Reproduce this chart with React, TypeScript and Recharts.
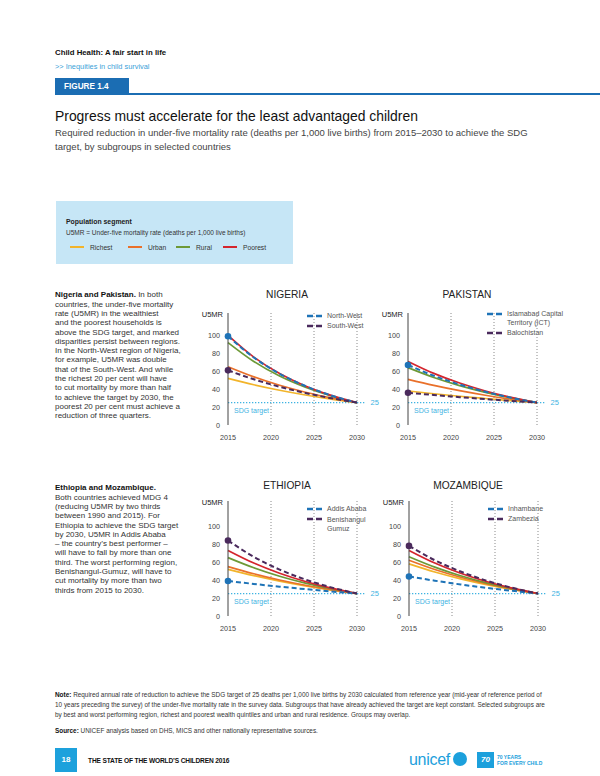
import { LineChart, Line, XAxis, YAxis, ReferenceLine } from "recharts"

const YEARS = [2015, 2018, 2021, 2024, 2027, 2030]
const X_TICKS = [2015, 2020, 2025, 2030]
const Y_TICKS = [0, 20, 40, 60, 80, 100]
const SDG_TARGET = 25

// U5MR per subgroup
const NIGERIA_RICHEST = [52, 44.9, 38.8, 33.5, 28.9, 25]
const NIGERIA_URBAN = [65, 53.7, 44.3, 36.6, 30.3, 25]
const NIGERIA_RURAL = [92, 70.9, 54.6, 42.1, 32.4, 25]
const NIGERIA_POOREST = [100, 75.8, 57.4, 43.5, 33.0, 25]
const NIGERIA_NORTH_WEST = [99, 75.3, 57.2, 43.5, 33.0, 25]
const NIGERIA_SOUTH_WEST = [61, 51.0, 42.7, 35.7, 29.9, 25]

const PAKISTAN_RICHEST = [38, 34.9, 32.1, 29.6, 27.2, 25]
const PAKISTAN_URBAN = [51, 44.2, 38.3, 33.2, 28.8, 25]
const PAKISTAN_RURAL = [64, 53.0, 43.9, 36.4, 30.2, 25]
const PAKISTAN_POOREST = [71, 57.6, 46.8, 38.0, 30.8, 25]
const PAKISTAN_ICT = [67, 55.0, 45.2, 37.1, 30.4, 25]
const PAKISTAN_BALOCHISTAN = [36, 33.5, 31.1, 28.9, 26.9, 25]

const ETHIOPIA_RICHEST = [52, 44.9, 38.8, 33.5, 28.9, 25]
const ETHIOPIA_URBAN = [55, 47.0, 40.1, 34.2, 29.2, 25]
const ETHIOPIA_RURAL = [65, 53.7, 44.3, 36.6, 30.3, 25]
const ETHIOPIA_POOREST = [73, 58.9, 47.6, 38.4, 31.0, 25]
const ETHIOPIA_ADDIS_ABABA = [39, 35.7, 32.6, 29.9, 27.3, 25]
const ETHIOPIA_BENISHANGUL = [84, 65.9, 51.7, 40.6, 31.9, 25]

const MOZAMBIQUE_RICHEST = [58, 49.0, 41.4, 35.0, 29.6, 25]
const MOZAMBIQUE_URBAN = [62, 51.7, 43.1, 36.0, 30.0, 25]
const MOZAMBIQUE_RURAL = [66, 54.4, 44.8, 36.9, 30.4, 25]
const MOZAMBIQUE_POOREST = [73, 58.9, 47.6, 38.4, 31.0, 25]
const MOZAMBIQUE_INHAMBANE = [44, 39.3, 35.1, 31.3, 28.0, 25]
const MOZAMBIQUE_ZAMBEZIA = [78, 62.1, 49.5, 39.4, 31.4, 25]

const FONT = '"Liberation Sans", Arial, sans-serif'
const SDG_COLOR = "#3db3e2"
const PLOT_W = 129

const SERIES = [
  { key: "richest", color: "#f2b42a", dashed: false },
  { key: "urban", color: "#e9702a", dashed: false },
  { key: "rural", color: "#6d9936", dashed: false },
  { key: "poorest", color: "#d4252d", dashed: false },
  { key: "regionA", color: "#1e73b7", dashed: true },
  { key: "regionB", color: "#4a2a5c", dashed: true },
]

function buildRows(groups: number[][]) {
  return YEARS.map((year, i) => ({
    year,
    richest: groups[0][i],
    urban: groups[1][i],
    rural: groups[2][i],
    poorest: groups[3][i],
    regionA: groups[4][i],
    regionB: groups[5][i],
  }))
}

function Txt({ x, y, size, lh, children, style }: any) {
  return (
    <div
      style={{
        position: "absolute",
        left: x,
        top: y - lh / 2,
        fontSize: size,
        lineHeight: `${lh}px`,
        whiteSpace: "nowrap",
        ...style,
      }}
    >
      {children}
    </div>
  )
}

function SdgLabel(props: any) {
  const vb = props.viewBox || {}
  const x = vb.x ?? vb.x1 ?? 0
  const y = vb.y ?? vb.y1 ?? 0
  const w = vb.width ?? (vb.x2 != null ? vb.x2 - vb.x1 : 0)
  return (
    <g fontFamily={FONT}>
      <text x={x + w + 5} y={y + 2.5} fill={SDG_COLOR} fontSize={7.5}>
        25
      </text>
      <text x={x + 6} y={y + 10.5} fill={SDG_COLOR} fontSize={7}>
        SDG target
      </text>
    </g>
  )
}

function CountryChart({ name, rows, axisX, plotTop, plotHeight, yMax, titleY, legend }: any) {
  const tick = { fontSize: 7.2, fill: "#444", fontFamily: FONT }
  const dashX = axisX + 79
  return (
    <>
      <Txt x={axisX + 9} y={titleY} size={10.2} lh={12} style={{ color: "#222", width: 100, textAlign: "center" }}>
        {name}
      </Txt>
      <Txt x={axisX - 36} y={plotTop + 2} size={7.5} lh={10} style={{ color: "#222", width: 31, textAlign: "right" }}>
        U5MR
      </Txt>
      {legend.map((item: any) => (
        <div key={item.label[0]}>
          <svg style={{ position: "absolute", left: dashX, top: item.y - 3 }} width={17} height={6}>
            <line x1={0} x2={17} y1={3} y2={3} stroke={item.color} strokeWidth={2.4} strokeDasharray="6 3" />
          </svg>
          <Txt x={dashX + 20} y={item.y} size={7} lh={9.3} style={{ color: "#555" }}>
            {item.label.map((l: string, i: number) => (
              <div key={i}>{l}</div>
            ))}
          </Txt>
        </div>
      ))}
      <div style={{ position: "absolute", left: axisX - 38, top: plotTop - 10 }}>
        <LineChart
          width={38 + PLOT_W + 30}
          height={plotHeight + 32}
          data={rows}
          margin={{ top: 10, right: 30, left: 8, bottom: 0 }}
        >
          <XAxis
            dataKey="year"
            type="number"
            domain={[2015, 2030]}
            ticks={X_TICKS}
            interval={0}
            axisLine={false}
            tickLine={false}
            tick={tick}
            height={22}
            tickMargin={4}
          />
          <YAxis
            type="number"
            domain={[0, yMax]}
            ticks={Y_TICKS}
            interval={0}
            width={30}
            tickLine={false}
            axisLine={{ stroke: "#444", strokeWidth: 1 }}
            tick={tick}
          />
          {X_TICKS.slice(1).map((x) => (
            <ReferenceLine key={x} x={x} stroke="#8a8a8a" strokeDasharray="1 2" />
          ))}
          <ReferenceLine
            segment={[
              { x: 2015, y: SDG_TARGET },
              { x: 2031, y: SDG_TARGET },
            ]}
            stroke={SDG_COLOR}
            strokeWidth={1.3}
            strokeDasharray="1.3 1.7"
            ifOverflow="visible"
            label={<SdgLabel />}
          />
          {SERIES.map((s) => (
            <Line
              key={s.key}
              dataKey={s.key}
              type="monotone"
              stroke={s.color}
              strokeWidth={s.dashed ? 2 : 1.7}
              strokeDasharray={s.dashed ? "5 3" : undefined}
              isAnimationActive={false}
              dot={
                s.dashed
                  ? (p: any) =>
                      p.index === 0 ? (
                        <circle key={`${s.key}-${p.index}`} cx={p.cx} cy={p.cy} r={3.3} fill={s.color} />
                      ) : (
                        <g key={`${s.key}-${p.index}`} />
                      )
                  : false
              }
              activeDot={false}
            />
          ))}
        </LineChart>
      </div>
    </>
  )
}

const NIGERIA_ROWS = buildRows([NIGERIA_RICHEST, NIGERIA_URBAN, NIGERIA_RURAL, NIGERIA_POOREST, NIGERIA_NORTH_WEST, NIGERIA_SOUTH_WEST])
const PAKISTAN_ROWS = buildRows([PAKISTAN_RICHEST, PAKISTAN_URBAN, PAKISTAN_RURAL, PAKISTAN_POOREST, PAKISTAN_ICT, PAKISTAN_BALOCHISTAN])
const ETHIOPIA_ROWS = buildRows([ETHIOPIA_RICHEST, ETHIOPIA_URBAN, ETHIOPIA_RURAL, ETHIOPIA_POOREST, ETHIOPIA_ADDIS_ABABA, ETHIOPIA_BENISHANGUL])
const MOZAMBIQUE_ROWS = buildRows([MOZAMBIQUE_RICHEST, MOZAMBIQUE_URBAN, MOZAMBIQUE_RURAL, MOZAMBIQUE_POOREST, MOZAMBIQUE_INHAMBANE, MOZAMBIQUE_ZAMBEZIA])

const BLUE = SERIES[4].color
const PURPLE = SERIES[5].color

const LEGEND_KEYS = [
  { label: "Richest", color: SERIES[0].color, x: 70 },
  { label: "Urban", color: SERIES[1].color, x: 128 },
  { label: "Rural", color: SERIES[2].color, x: 176 },
  { label: "Poorest", color: SERIES[3].color, x: 223 },
]

const NIGERIA_TEXT = [
  "countries, the under-five mortality",
  "rate (U5MR) in the wealthiest",
  "and the poorest households is",
  "above the SDG target, and marked",
  "disparities persist between regions.",
  "In the North-West region of Nigeria,",
  "for example, U5MR was double",
  "that of the South-West. And while",
  "the richest 20 per cent will have",
  "to cut mortality by more than half",
  "to achieve the target by 2030, the",
  "poorest 20 per cent must achieve a",
  "reduction of three quarters.",
]

const ETHIOPIA_TEXT = [
  "Both countries achieved MDG 4",
  "(reducing U5MR by two thirds",
  "between 1990 and 2015). For",
  "Ethiopia to achieve the SDG target",
  "by 2030, U5MR in Addis Ababa",
  "– the country’s best performer –",
  "will have to fall by more than one",
  "third. The worst performing region,",
  "Benishangul-Gumuz, will have to",
  "cut mortality by more than two",
  "thirds from 2015 to 2030.",
]

const NOTE_LINES = [
  "Required annual rate of reduction to achieve the SDG target of 25 deaths per 1,000 live births by 2030 calculated from reference year (mid-year of reference period of",
  "10 years preceding the survey) of the under-five mortality rate in the survey data. Subgroups that have already achieved the target are kept constant. Selected subgroups are",
  "by best and worst performing region, richest and poorest wealth quintiles and urban and rural residence. Groups may overlap.",
]

export default function App() {
  const para = { color: "#333", fontFamily: FONT }
  return (
    <div
      style={{
        position: "absolute",
        left: 0,
        top: 0,
        width: 600,
        height: 776,
        background: "#fff",
        fontFamily: FONT,
        overflow: "hidden",
      }}
    >
      <Txt x={55} y={53} size={7.8} lh={10} style={{ fontWeight: 700, color: "#111" }}>
        Child Health: A fair start in life
      </Txt>
      <Txt x={55} y={67} size={7.4} lh={10} style={{ color: "#3a9fd8" }}>
        {">> Inequities in child survival"}
      </Txt>
      <div style={{ position: "absolute", left: 55, top: 93, width: 545, height: 2, background: "#1b6db3" }} />
      <div
        style={{
          position: "absolute",
          left: 55,
          top: 78,
          width: 74,
          height: 17,
          background: "#1b6db3",
          color: "#fff",
          fontWeight: 700,
          fontSize: 8.2,
          lineHeight: "17px",
          paddingLeft: 9,
          boxSizing: "border-box",
        }}
      >
        FIGURE 1.4
      </div>
      <Txt x={55} y={116} size={13.9} lh={16} style={{ color: "#111" }}>
        Progress must accelerate for the least advantaged children
      </Txt>
      <Txt x={55} y={133} size={9.5} lh={14.5} style={{ color: "#444" }}>
        Required reduction in under-five mortality rate (deaths per 1,000 live births) from 2015–2030 to achieve the SDG
        <br />
        target, by subgroups in selected countries
      </Txt>

      <div style={{ position: "absolute", left: 56, top: 201, width: 237, height: 63, background: "#c6e6f6" }} />
      <Txt x={66} y={221} size={6.9} lh={9} style={{ fontWeight: 700, color: "#222" }}>
        Population segment
      </Txt>
      <Txt x={66} y={232.5} size={6.5} lh={9} style={{ color: "#333" }}>
        U5MR = Under-five mortality rate (deaths per 1,000 live births)
      </Txt>
      {LEGEND_KEYS.map((k) => (
        <div key={k.label}>
          <div style={{ position: "absolute", left: k.x, top: 246, width: 14, height: 1.6, background: k.color }} />
          <Txt x={k.x + 20} y={247} size={6.7} lh={9} style={{ color: "#333" }}>
            {k.label}
          </Txt>
        </div>
      ))}

      <Txt x={55} y={295} size={8} lh={9.3} style={para}>
        <b style={{ color: "#111" }}>Nigeria and Pakistan.</b> In both
        {NIGERIA_TEXT.map((l) => (
          <div key={l}>{l}</div>
        ))}
      </Txt>
      <Txt x={55} y={488} size={8} lh={9.3} style={para}>
        <b style={{ color: "#111" }}>Ethiopia and Mozambique.</b>
        {ETHIOPIA_TEXT.map((l) => (
          <div key={l}>{l}</div>
        ))}
      </Txt>

      <CountryChart
        name="NIGERIA"
        rows={NIGERIA_ROWS}
        axisX={228}
        plotTop={313}
        plotHeight={112}
        yMax={125}
        titleY={295}
        legend={[
          { label: ["North-West"], color: BLUE, y: 316 },
          { label: ["South-West"], color: PURPLE, y: 325.7 },
        ]}
      />
      <CountryChart
        name="PAKISTAN"
        rows={PAKISTAN_ROWS}
        axisX={408}
        plotTop={313}
        plotHeight={112}
        yMax={125}
        titleY={295}
        legend={[
          { label: ["Islamabad Capital", "Territory (ICT)"], color: BLUE, y: 313.5 },
          { label: ["Balochistan"], color: PURPLE, y: 332.5 },
        ]}
      />
      <CountryChart
        name="ETHIOPIA"
        rows={ETHIOPIA_ROWS}
        axisX={228}
        plotTop={501}
        plotHeight={115}
        yMax={128}
        titleY={486}
        legend={[
          { label: ["Addis Ababa"], color: BLUE, y: 508.7 },
          { label: ["Benishangul", "Gumuz"], color: PURPLE, y: 519.3 },
        ]}
      />
      <CountryChart
        name="MOZAMBIQUE"
        rows={MOZAMBIQUE_ROWS}
        axisX={409}
        plotTop={501}
        plotHeight={115}
        yMax={128}
        titleY={486}
        legend={[
          { label: ["Inhambane"], color: BLUE, y: 508.7 },
          { label: ["Zambezia"], color: PURPLE, y: 519 },
        ]}
      />

      <Txt x={55} y={695} size={6.4} lh={10.2} style={{ color: "#333" }}>
        <b style={{ color: "#111" }}>Note:</b> {NOTE_LINES[0]}
        <div>{NOTE_LINES[1]}</div>
        <div>{NOTE_LINES[2]}</div>
      </Txt>
      <Txt x={55} y={731} size={6.4} lh={10} style={{ color: "#333" }}>
        <b style={{ color: "#111" }}>Source:</b> UNICEF analysis based on DHS, MICS and other nationally representative sources.
      </Txt>

      <div
        style={{
          position: "absolute",
          left: 55,
          top: 748,
          width: 22,
          height: 24,
          background: "#1da1dc",
          color: "#fff",
          fontWeight: 700,
          fontSize: 8,
          lineHeight: "24px",
          textAlign: "center",
        }}
      >
        18
      </div>
      <Txt x={88} y={761} size={6.6} lh={10} style={{ fontWeight: 700, color: "#111", letterSpacing: -0.15 }}>
        THE STATE OF THE WORLD’S CHILDREN 2016
      </Txt>
      <Txt x={409} y={760} size={16} lh={18} style={{ color: "#1ca0dc", letterSpacing: -0.3 }}>
        unicef
      </Txt>
      <div
        style={{
          position: "absolute",
          left: 453,
          top: 752,
          width: 14,
          height: 14,
          borderRadius: 7,
          background: "#1ca0dc",
        }}
      />
      <div
        style={{
          position: "absolute",
          left: 477,
          top: 752,
          width: 17,
          height: 16,
          background: "#1ca0dc",
          color: "#fff",
          fontSize: 8,
          fontWeight: 700,
          lineHeight: "16px",
          textAlign: "center",
          fontStyle: "italic",
        }}
      >
        70
      </div>
      <Txt x={497} y={756.5} size={5} lh={6} style={{ color: "#1ca0dc", fontWeight: 700 }}>
        70 YEARS
        <div>FOR EVERY CHILD</div>
      </Txt>
    </div>
  )
}
